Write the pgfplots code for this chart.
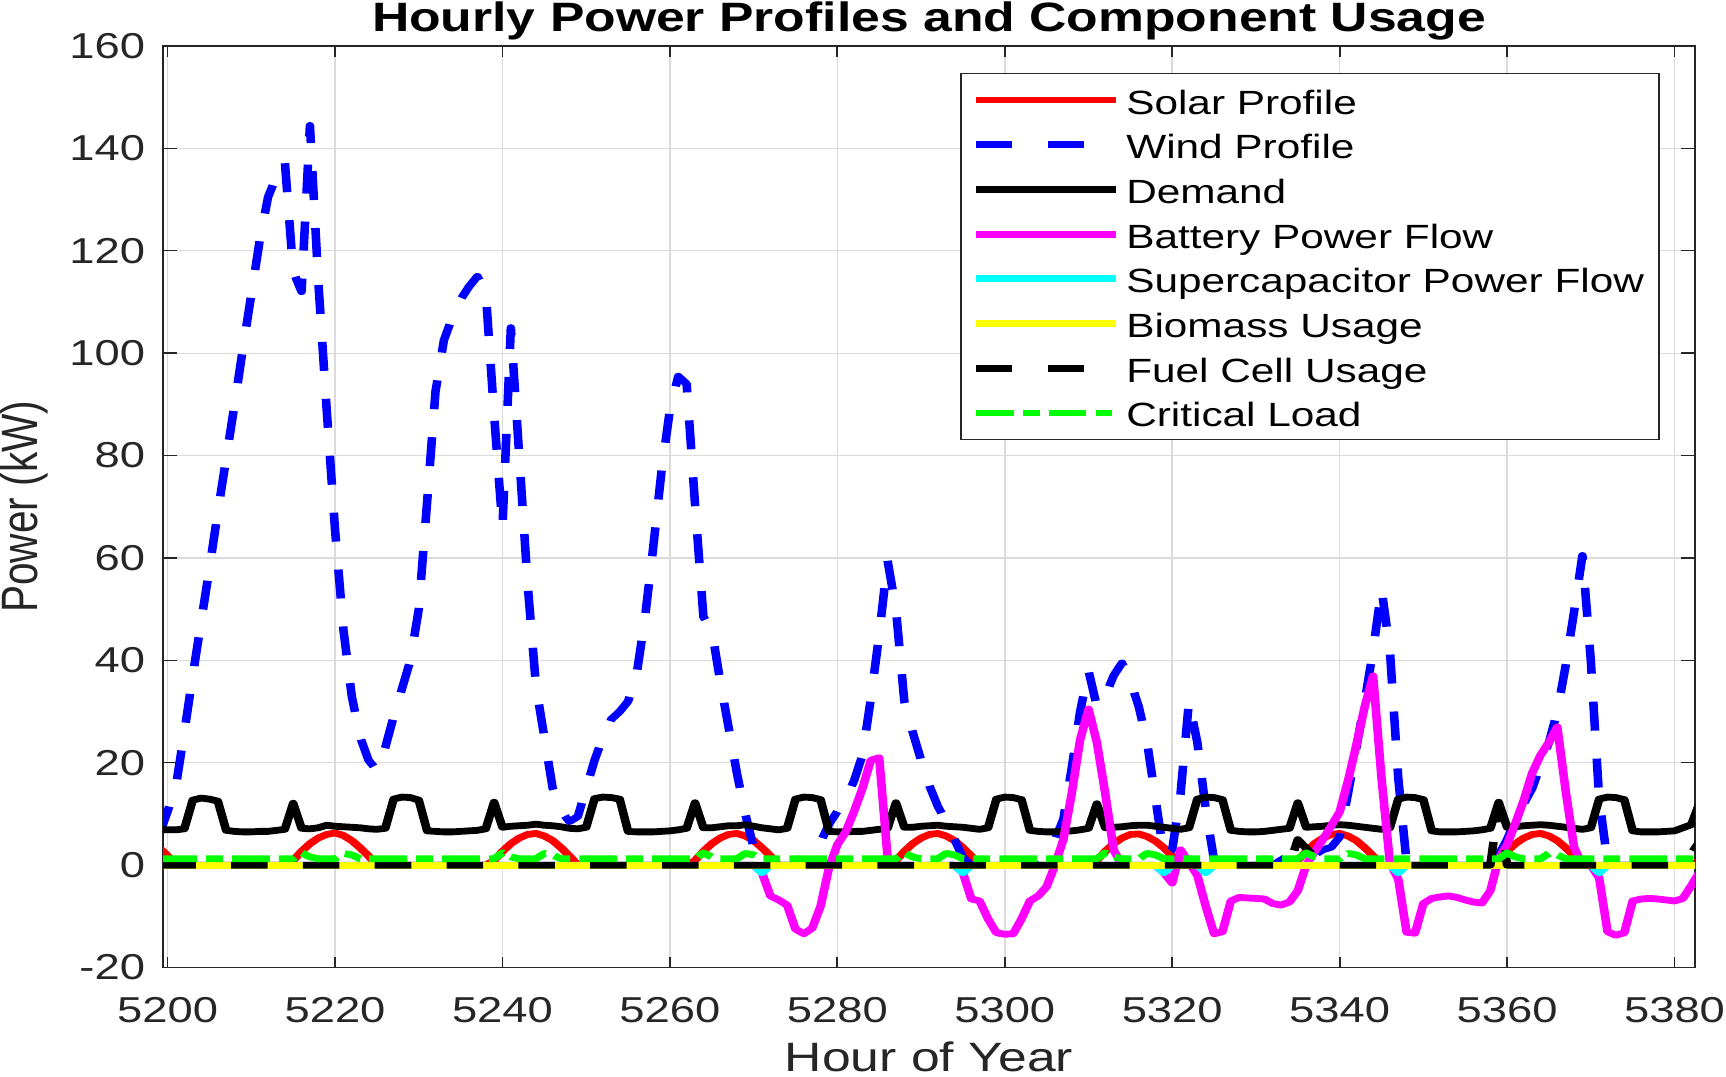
\documentclass[border=0pt]{standalone}
\usepackage{fontspec}
\setmainfont{Liberation Sans}
\usepackage{graphicx}
\usepackage{pgfplots}
\usepackage{pgfplotstable}
\pgfplotsset{compat=1.18}
\definecolor{mRed}{rgb}{1,0,0}
\definecolor{mBlue}{rgb}{0,0,1}
\definecolor{mMagenta}{rgb}{1,0,1}
\definecolor{mCyan}{rgb}{0,1,1}
\definecolor{mYellow}{rgb}{1,1,0}
\definecolor{mGreen}{rgb}{0,1,0}

\pgfplotstableread{
t S W D B C Y F G
5199 3.4 6 7.0 0 0 0 0 1.25
5200 1.8 10.5 6.9 0 0 0 0 1.25
5201 0 15.5 6.9 0 0 0 0 1.25
5202 0 26 7.1 0 0 0 0 1.25
5203 0 37 12.7 0 0 0 0 1.25
5204 0 47.5 13.1 0 0 0 0 1.25
5205 0 58 12.9 0 0 0 0 1.25
5206 0 69 12.5 0 0 0 0 1.25
5207 0 79.5 6.8 0 0 0 0 1.25
5208 0 90 6.6 0 0 0 0 1.25
5209 0 101 6.5 0 0 0 0 1.25
5210 0 111.5 6.5 0 0 0 0 1.25
5211 0 122 6.6 0 0 0 0 1.25
5212 0 130.5 6.6 0 0 0 0 1.25
5213 0 134.5 6.8 0 0 0 0 1.25
5214 0 137.5 7.0 0 0 0 0 1.25
5215 0.9 116 12.1 0 0 0 0 1.25
5216 2.7 112 7.2 0 0 0 0 2.4
5217 4.2 144.5 7.1 0 0 0 0 1.6
5218 5.3 114 7.3 0 0 0 0 1.25
5219 6.0 89 7.8 0 0 0 0 1.25
5220 6.3 65.5 7.6 0 0 0 0 1.25
5221 5.8 46 7.5 0 0 0 0 2.3
5222 4.8 33 7.4 0 0 0 0 2.0
5223 3.4 25 7.3 0 0 0 0 1.25
5224 1.8 20.5 7.1 0 0 0 0 1.25
5225 0 18.5 7.0 0 0 0 0 1.25
5226 0 23 7.2 0 0 0 0 1.25
5227 0 29 12.9 0 0 0 0 1.25
5228 0 34.5 13.3 0 0 0 0 1.25
5229 0 40 13.2 0 0 0 0 1.25
5230 0 50 12.7 0 0 0 0 1.25
5231 0 71 6.7 0 0 0 0 1.25
5232 0 92.5 6.6 0 0 0 0 1.25
5233 0 102.5 6.5 0 0 0 0 1.25
5234 0 107 6.5 0 0 0 0 1.25
5235 0 110.5 6.6 0 0 0 0 1.25
5236 0 113 6.7 0 0 0 0 1.25
5237 0 115 6.8 0 0 0 0 1.25
5238 0 112 7.1 0 0 0 0 1.25
5239 0.9 88 12.3 0 0 0 0 1.25
5240 2.7 66 7.4 0 0 0 0 2.4
5241 4.2 105 7.6 0 0 0 0 1.6
5242 5.3 80 7.7 0 0 0 0 1.25
5243 6.0 55 7.8 0 0 0 0 1.25
5244 6.2 35 8.0 0 0 0 0 1.25
5245 5.7 25 7.8 0 0 0 0 2.3
5246 4.8 15 7.7 0 0 0 0 2.0
5247 3.4 10.5 7.5 0 0 0 0 1.25
5248 1.8 8.5 7.2 0 0 0 0 1.25
5249 0 9.5 7.1 0 0 0 0 1.25
5250 0 15 7.4 0 0 0 0 1.25
5251 0 20.5 13.0 0 0 0 0 1.25
5252 0 25 13.3 0 0 0 0 1.25
5253 0 28.5 13.2 0 0 0 0 1.25
5254 0 30 12.9 0 0 0 0 1.25
5255 0 32 6.6 0 0 0 0 1.25
5256 0 37 6.5 0 0 0 0 1.25
5257 0 48 6.5 0 0 0 0 1.25
5258 0 62 6.5 0 0 0 0 1.25
5259 0 77 6.6 0 0 0 0 1.25
5260 0 89 6.7 0 0 0 0 1.25
5261 0 95.5 6.9 0 0 0 0 1.25
5262 0 94 7.2 0 0 0 0 1.25
5263 0.9 70.5 12.2 0 0 0 0 1.25
5264 2.7 48.5 7.3 0 0 0 0 2.4
5265 4.2 46 7.3 0 0 0 0 1.6
5266 5.3 36 7.5 0 0 0 0 1.25
5267 6.0 27 7.7 0 0 0 0 1.25
5268 6.2 18 7.7 0 0 0 0 1.25
5269 5.7 10 7.9 0 0 0 0 2.3
5270 4.8 3.5 7.6 0 0 0 0 2.0
5271 3.4 0.5 7.3 -1.5 -1.5 0 0 1.25
5272 1.8 0 7.1 -6 0 0 0 1.25
5273 0 0 6.9 -6.8 0 0 0 1.25
5274 0 0 7.2 -7.8 0 0 0 1.25
5275 0 0 12.9 -12.5 0 0 0 1.25
5276 0 0 13.3 -13.4 0 0 0 1.25
5277 0 1.5 13.2 -12.3 0 0 0 1.25
5278 0 4.5 12.8 -8 0 0 0 1.25
5279 0 8 6.6 -0.5 0 0 0 1.25
5280 0 10.5 6.5 4 0 0 0 1.25
5281 0 13 6.5 6.5 0 0 0 1.25
5282 0 16.5 6.6 10.5 0 0 0 1.25
5283 0 21.5 6.6 15 0 0 0 1.25
5284 0 32.5 6.8 20.5 0 0 0 1.25
5285 0 45 7.0 21 0 0 0 1.25
5286 0 59.5 7.2 1.5 0 0 0 1.25
5287 0.9 50 12.2 0 0 0 0 1.25
5288 2.7 32 7.4 0 0 0 0 2.4
5289 4.2 26 7.4 0 0 0 0 1.6
5290 5.3 20.5 7.6 0 0 0 0 1.25
5291 6.0 15.5 7.7 0 0 0 0 1.25
5292 6.2 11.5 7.8 0 0 0 0 1.25
5293 5.7 8.5 7.6 0 0 0 0 2.3
5294 4.8 5 7.5 0 0 0 0 2.0
5295 3.4 1.5 7.4 -1.5 -1.5 0 0 1.25
5296 1.8 0 7.2 -6.6 0 0 0 1.25
5297 0 0 7.0 -7 0 0 0 1.25
5298 0 0 7.3 -10.5 0 0 0 1.25
5299 0 0 12.9 -13.2 0 0 0 1.25
5300 0 0 13.3 -13.5 0 0 0 1.25
5301 0 0 13.2 -13.4 0 0 0 1.25
5302 0 0 12.8 -10.5 0 0 0 1.25
5303 0 0 6.8 -7 0 0 0 1.25
5304 0 0 6.6 -6 0 0 0 1.25
5305 0 2 6.5 -4.2 0 0 0 1.25
5306 0 5 6.5 0 0 0 0 1.25
5307 0 9 6.6 5 0 0 0 1.25
5308 0 19 6.7 14 0 0 0 1.25
5309 0 30 6.9 24.5 0 0 0 1.25
5310 0 38 7.2 30.5 0 0 0 1.25
5311 0.9 31 12.0 24 0 0 0 1.25
5312 2.7 33 7.3 14 0 0 0 2.4
5313 4.2 37 7.4 3 0 0 0 1.6
5314 5.3 39.5 7.5 0 0 0 0 1.25
5315 6.0 36 7.7 0 0 0 0 1.25
5316 6.1 31 7.8 0 0 0 0 1.25
5317 5.6 24 7.8 0 0 0 0 2.3
5318 4.7 13 7.6 0 0 0 0 2.0
5319 3.4 2 7.4 -1.5 -1.5 0 0 1.25
5320 1.8 3 7.2 -3.5 0 0 0 1.25
5321 0 14 7.0 3 0 0 0 1.25
5322 0 32 7.3 0.5 0 0 0 1.25
5323 0 24 12.9 -2 0 0 0 1.25
5324 0 11 13.3 -8 -1.5 0 0 1.25
5325 0 1 13.2 -13.4 0 0 0 1.25
5326 0 0 12.8 -13 0 0 0 1.25
5327 0 0 6.8 -7 0 0 0 1.25
5328 0 0 6.6 -6.3 0 0 0 1.25
5329 0 0 6.5 -6.4 0 0 0 1.25
5330 0 0 6.5 -6.5 0 0 0 1.25
5331 0 0 6.6 -6.6 0 0 0 1.25
5332 0 0 6.8 -7.5 0 0 0 1.25
5333 0 1 7.0 -7.8 0 0 0 1.25
5334 0 2 7.2 -7.2 0 0 0 1.25
5335 0.9 2.5 12.2 -5 0 0 5 1.25
5336 2.7 2 7.4 0 0 0 3.3 2.4
5337 4.2 2 7.5 2.6 0 0 1.7 1.6
5338 5.3 3 7.6 5 0 0 0 1.25
5339 6.0 3.5 7.8 7.7 0 0 0 1.25
5340 6.2 5.5 7.9 10.4 0 0 0 1.25
5341 5.7 14 7.8 16.5 0 0 0 2.3
5342 4.8 23 7.6 23.5 0 0 0 2.0
5343 3.4 32 7.4 31 0 0 0 1.25
5344 1.8 42 7.2 37 0 0 0 1.25
5345 0 54 7.0 17 0 0 0 1.25
5346 0 42 7.3 0.5 0 0 0 1.25
5347 0 17 12.9 -2.7 -1.5 0 0 1.25
5348 0 0.5 13.3 -13.1 0 0 0 1.25
5349 0 0 13.2 -13.3 0 0 0 1.25
5350 0 0 12.8 -7.5 0 0 0 1.25
5351 0 0 6.7 -6.5 0 0 0 1.25
5352 0 0 6.5 -6.2 0 0 0 1.25
5353 0 0 6.5 -6 0 0 0 1.25
5354 0 0 6.5 -6.3 0 0 0 1.25
5355 0 0 6.6 -6.8 0 0 0 1.25
5356 0 0 6.7 -7.2 0 0 0 1.25
5357 0 0 6.9 -7.4 0 0 0 1.25
5358 0 0.5 7.2 -5 0 0 0 1.25
5359 0.9 2 12.3 1.3 0 0 12 1.25
5360 2.7 5 7.4 4 0 0 0 2.4
5361 4.2 9 7.5 8.2 0 0 0 1.6
5362 5.3 12 7.7 12.7 0 0 0 1.25
5363 6.0 15 7.8 18 0 0 0 1.25
5364 6.2 19.5 7.9 21.5 0 0 0 1.25
5365 5.7 24 7.8 24 0 0 0 2.3
5366 4.8 30 7.6 27 0 0 0 2.0
5367 3.4 39 7.4 14.5 0 0 0 1.25
5368 1.8 49.5 7.2 3.5 0 0 0 1.25
5369 0 60.5 7.0 0 0 0 0 1.25
5370 0 40 7.3 0 0 0 0 1.25
5371 0 13 12.9 -2.5 -1.5 0 0 1.25
5372 0 0.5 13.3 -13 0 0 0 1.25
5373 0 0 13.2 -13.7 0 0 0 1.25
5374 0 0 12.8 -13.2 0 0 0 1.25
5375 0 0 6.7 -7 0 0 0 1.25
5376 0 0 6.5 -6.6 0 0 0 1.25
5377 0 0 6.5 -6.5 0 0 0 1.25
5378 0 0 6.5 -6.6 0 0 0 1.25
5379 0 0 6.6 -6.8 0 0 0 1.25
5380 0 0 6.7 -7 0 0 0 1.25
5381 0 0 7.3 -6.5 0 0 0 1.25
5382 0 0 7.9 -4 0 0 2.3 1.25
5383 0.9 0 12.2 -1.3 0 0 4.6 1.25
}\data

\begin{document}
\scalebox{1.26}[1]{%
\begin{tikzpicture}
\begin{axis}[
  scale only axis,
  width=607.9pt, height=460.75pt,
  xmin=5199.45, xmax=5382.45,
  ymin=-20, ymax=160,
  xtick={5200,5220,...,5380},
  ytick={-20,0,...,160},
  scaled ticks=false,
  /pgf/number format/1000 sep={},
  /pgf/number format/assume math mode=true,
  tick label style={font=\fontsize{18}{20}\selectfont, text=black!85},
  xticklabel style={anchor=base, yshift=-27.25pt},
  yticklabel style={anchor=east, xshift=-3.6pt},
  tick align=inside,
  major tick length=5.5pt,
  tick style={line width=0.7pt, draw=black!85},
  axis line style={line width=0.7pt, draw=black!85},
  grid=major,
  major grid style={line width=0.6pt, draw=black!14},
  title={Hourly Power Profiles and Component Usage},
  every axis title/.style={font=\bfseries\fontsize{20.5}{22}\selectfont, at={(axis description cs:0.5,1)}, anchor=base, yshift=7pt},
  xlabel={Hour of Year},
  every axis x label/.style={font=\fontsize{20.5}{22}\selectfont, text=black!85, at={(axis description cs:0.5,0)}, anchor=base, yshift=-51.75pt},
  ylabel={Power (kW)},
  every axis y label/.style={font=\fontsize{20.3}{22}\selectfont, text=black!85, at={(axis description cs:-0.08209,0.5)}, rotate=90, anchor=base},
  legend style={
    at={(axis description cs:1,1)}, anchor=north east,
    xshift=-13.85pt, yshift=-13.5pt,
    draw=black!85, line width=0.7pt, fill=white,
    font=\fontsize{16.8}{18}\selectfont,
    inner xsep=4.25pt, inner ysep=2pt,
    row sep=0pt, column sep=2.5pt,
    nodes={inner xsep=0pt, inner ysep=2.175pt, text height=16pt, text depth=2pt},
  },
  legend cell align=left,
  legend image code/.code={\draw[#1, line width=3.4pt] (0pt,0pt) -- (55.5pt,0pt);},
  every axis plot/.append style={line width=3.4pt, line join=round},
]
\addplot[mRed] table[x=t,y=S]{\data};
\addlegendentry{Solar Profile}
\addplot[mBlue, dash pattern=on 14.5pt off 14pt] table[x=t,y=W]{\data};
\addlegendentry{Wind Profile}
\addplot[black] table[x=t,y=D]{\data};
\addlegendentry{Demand}
\addplot[mMagenta] table[x=t,y=B]{\data};
\addlegendentry{Battery Power Flow}
\addplot[mCyan] table[x=t,y=C]{\data};
\addlegendentry{Supercapacitor Power Flow\hspace*{1.8pt}}
\addplot[mYellow] table[x=t,y=Y]{\data};
\addlegendentry{Biomass Usage}
\addplot[black, dash pattern=on 14.5pt off 14pt] table[x=t,y=F]{\data};
\addlegendentry{Fuel Cell Usage}
\addplot[mGreen, dash pattern=on 15pt off 3.6pt on 6.7pt off 3.6pt] table[x=t,y=G]{\data};
\addlegendentry{Critical Load}
\coordinate (SW) at (rel axis cs:0,0);
\coordinate (NE) at (rel axis cs:1,1);
\end{axis}
\pgfresetboundingbox
\path ([shift={(-64.68pt,-54.25pt)}]SW) rectangle ([shift={(12.3pt,23pt)}]NE);
\end{tikzpicture}}
\end{document}
